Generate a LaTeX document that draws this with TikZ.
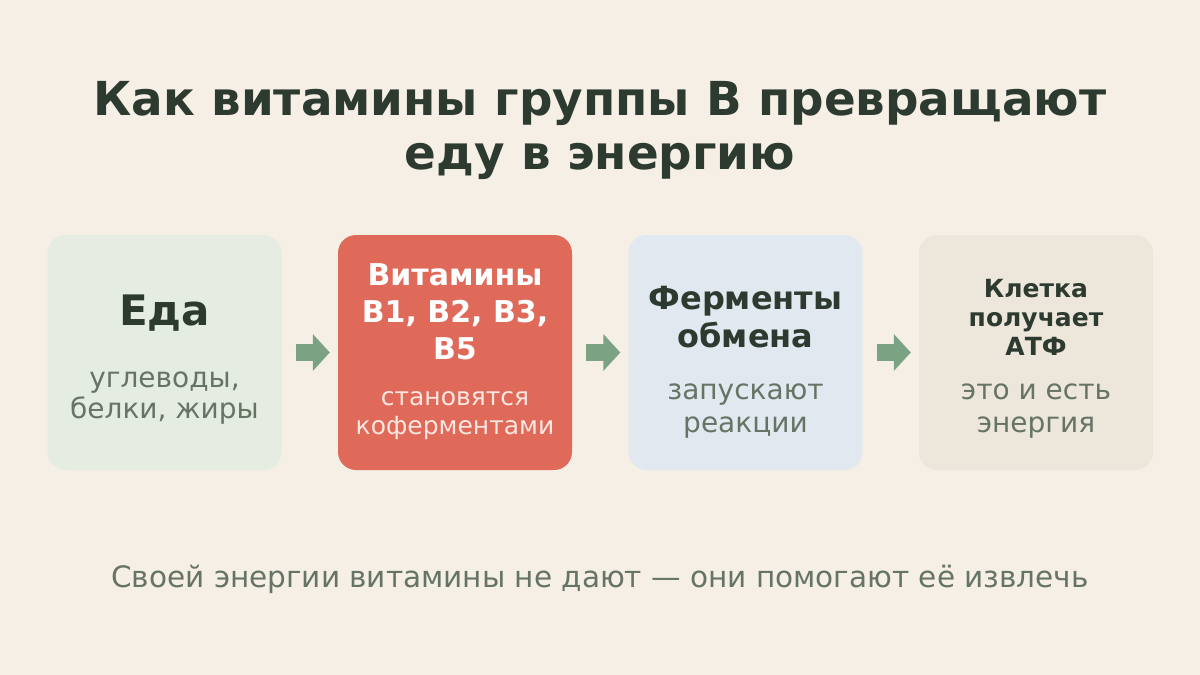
\documentclass[tikz,border=0pt]{standalone}
\usepackage{fontspec}
\setmainfont{DejaVu Sans}
\usetikzlibrary{arrows.meta}
\definecolor{bg}{HTML}{F5EFE6}
\definecolor{dark}{HTML}{2D3A2F}
\definecolor{grey}{HTML}{667466}
\definecolor{boxA}{HTML}{E5EDE3}
\definecolor{boxB}{HTML}{E06A5A}
\definecolor{boxC}{HTML}{E2E8EF}
\definecolor{boxD}{HTML}{EDE6DB}
\definecolor{arr}{HTML}{7BA283}
\definecolor{light}{HTML}{FCE6E0}
\tikzset{
  card/.style={draw=none, rounded corners=18pt, minimum width=234pt, minimum height=235pt, inner sep=0pt},
  head/.style 2 args={font=\bfseries\fontsize{#1}{#2}\selectfont, text=dark, align=center, inner sep=0pt},
  sub/.style 2 args={font=\fontsize{#1}{#2}\selectfont, text=grey, align=center, inner sep=0pt},
  flow/.style={draw=arr, line width=17pt, -{Triangle[width=36pt,length=17pt]}}
}
\begin{document}
\begin{tikzpicture}[x=1pt,y=-1pt]
\fill[bg] (0,0) rectangle (1200,675);
\useasboundingbox (0,0) rectangle (1200,675);
\node[head={46.8}{54}] (title) at (600,130) {Как витамины группы В превращают\\еду в энергию};
\node[card, fill=boxA] (b1) at (164.5,352.5) {};
\node[card, fill=boxB] (b2) at (455,352.5) {};
\node[card, fill=boxC] (b3) at (745.5,352.5) {};
\node[card, fill=boxD] (b4) at (1036,352.5) {};
\node[head={42}{48}] (t1) at (164.5,313) {Еда};
\node[sub={28}{31}] (s1) at (164.5,398) {углеводы,\\белки, жиры};
\node[head={30}{37}, text=white] (t2) at (455,312) {Витамины\\B1, B2, B3,\\B5};
\node[sub={25}{29}, text=light] (s2) at (455,416) {становятся\\коферментами};
\node[head={32}{38}] (t3) at (745.5,317) {Ферменты\\обмена};
\node[sub={28}{33}] (s3) at (745.5,411) {запускают\\реакции};
\node[head={25}{29}] (t4) at (1036,317) {Клетка\\получает\\АТФ};
\node[sub={28}{33}] (s4) at (1036,411) {это и есть\\энергия};
\draw[flow] ([xshift=14pt]b1.east) -- ([xshift=-8pt]b2.west);
\draw[flow] ([xshift=14pt]b2.east) -- ([xshift=-8pt]b3.west);
\draw[flow] ([xshift=14pt]b3.east) -- ([xshift=-8pt]b4.west);
\node[sub={29.5}{34}] (foot) at (600,579) {Своей энергии витамины не дают — они помогают её извлечь};
\end{tikzpicture}
\end{document}
